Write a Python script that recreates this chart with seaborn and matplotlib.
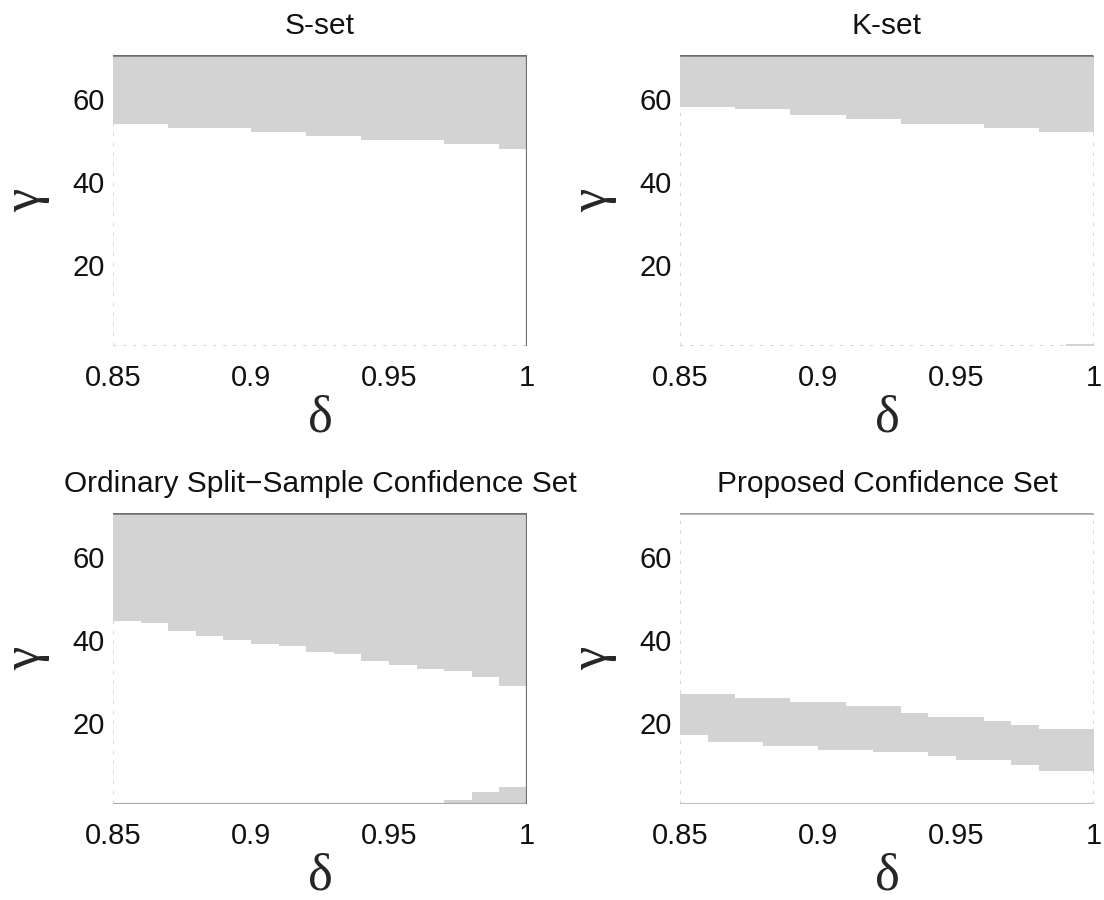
import numpy as np
import matplotlib
matplotlib.use("Agg")
import matplotlib.pyplot as plt
import seaborn as sns
from matplotlib.colors import ListedColormap

# delta cells: left edge of each column (last column ends at 1.00)
delta = [0.85, 0.86, 0.87, 0.88, 0.89, 0.90, 0.91, 0.92, 0.93,
         0.94, 0.95, 0.96, 0.97, 0.98, 0.99]
delta_end = 1.00
gamma_min, gamma_max, gamma_step = 0.5, 70.5, 0.5

# S-set: grey from s_lo up to the top of the grid
s_lo = [54, 54, 53, 53, 53, 52, 52, 51, 51, 50, 50, 50, 49, 49, 48]

# K-set: grey from k_lo to the top, plus a sliver at the bottom
k_lo = [58, 58, 57.5, 57.5, 56, 56, 55, 55, 54, 54, 54, 53, 53, 52, 52]
k_bottom_hi = [0.5, 0.5, 0.5, 0.5, 0.5, 0.5, 0.5, 0.5, 0.5, 0.5, 0.5, 0.5, 0.5, 0.5, 1.0]

# Ordinary split-sample set
ord_lo = [44.5, 44, 42, 41, 40, 39, 38.5, 37, 36.5, 35, 34, 33, 32.5, 31, 29]
ord_bottom_hi = [0.5, 0.5, 0.5, 0.5, 0.5, 0.5, 0.5, 0.5, 0.5, 0.5, 0.5, 0.5, 1.5, 3.5, 4.5]

# Proposed confidence set: a band
prop_lo = [17, 15.5, 15.5, 14.5, 14.5, 13.5, 13.5, 13, 13, 12, 11, 11, 10, 8.5, 8.5]
prop_hi = [27, 27, 26, 26, 25, 25, 24, 24, 22.5, 21.5, 21.5, 20.5, 19.5, 18.5, 18.5]

x_ticks = [0.85, 0.9, 0.95, 1]
x_ticklabels = ["0.85", "0.9", "0.95", "1"]
y_ticks = [20, 40, 60]

row_edges = np.arange(gamma_min, gamma_max, gamma_step)


def region(lo, hi):
    lo = np.asarray(lo, dtype=float)[None, :]
    hi = np.asarray(hi, dtype=float)[None, :]
    e = row_edges[:, None]
    return (e >= lo - 1e-9) & (e + gamma_step <= hi + 1e-9)


top = [gamma_max] * len(delta)
bottom = [gamma_min] * len(delta)
panels = [
    ("S-set", region(s_lo, top)),
    ("K-set", region(k_lo, top) | region(bottom, k_bottom_hi)),
    ("Ordinary Split\u2212Sample Confidence Set", region(ord_lo, top) | region(bottom, ord_bottom_hi)),
    ("Proposed Confidence Set", region(prop_lo, prop_hi)),
]

# edge lines seen on each panel: (top, right, bottom) colours, None = faint dotted
edge_styles = [
    ("#6e6e6e", "#6e6e6e", None),
    ("#6e6e6e", None, None),
    ("#6e6e6e", "#6e6e6e", "#a8a8a8"),
    ("#a0a0a0", None, "#c0c0c0"),
]

sns.set_style("white")
plt.rcParams["font.family"] = ["Liberation Sans", "DejaVu Sans"]

W, H = 1104, 900
fig = plt.figure(figsize=(W / 100, H / 100), dpi=100)
boxes = [(113, 55), (680, 55), (113, 513), (680, 513)]
aw, ah = 414, 291

cmap = ListedColormap(["white", "#d3d3d3"])
nrow = len(row_edges)
ncol = len(delta)


def xpos(d):
    return (d - delta[0]) / (delta[1] - delta[0])


def ypos(g):
    return (g - gamma_min) / gamma_step


for (title, Z), (left, ytop), (ec_top, ec_right, ec_bottom) in zip(panels, boxes, edge_styles):
    ax = fig.add_axes([left / W, 1 - (ytop + ah) / H, aw / W, ah / H])
    sns.heatmap(Z.astype(int), cmap=cmap, vmin=0, vmax=1, cbar=False, ax=ax,
                xticklabels=False, yticklabels=False)
    ax.set_xlim(0, ncol)
    ax.set_ylim(0, nrow)
    for s in ax.spines.values():
        s.set_visible(False)

    # borders
    ax.axvline(0, color="#cfcfcf", lw=1.2, ls=(0, (2, 4)))
    ax.axhline(0, color=ec_bottom or "#cfcfcf", lw=1.6 if ec_bottom else 1.2,
               ls="-" if ec_bottom else (0, (2, 4)))
    ax.axhline(nrow, color=ec_top, lw=1.8)
    ax.axvline(ncol, color=ec_right or "#cfcfcf", lw=1.6 if ec_right else 1.2,
               ls="-" if ec_right else (0, (2, 4)))

    ax.set_xticks([xpos(v) for v in x_ticks])
    ax.set_xticklabels(x_ticklabels, rotation=0)
    ax.set_yticks([ypos(v) for v in y_ticks])
    ax.set_yticklabels([str(v) for v in y_ticks], rotation=0)
    ax.tick_params(axis="both", length=0, labelsize=21, colors="#111111")
    ax.tick_params(axis="x", pad=13)
    ax.tick_params(axis="y", pad=6)

    ax.set_title(title, fontsize=21.5, pad=15, color="#111111")
    ax.set_xlabel("\u03b4", fontsize=38, family=["Liberation Serif", "DejaVu Serif"], labelpad=2)
    ax.set_ylabel("\u03b3", fontsize=38, family=["Liberation Serif", "DejaVu Serif"], labelpad=16)

fig.savefig("out.png", dpi=100, facecolor="white")
